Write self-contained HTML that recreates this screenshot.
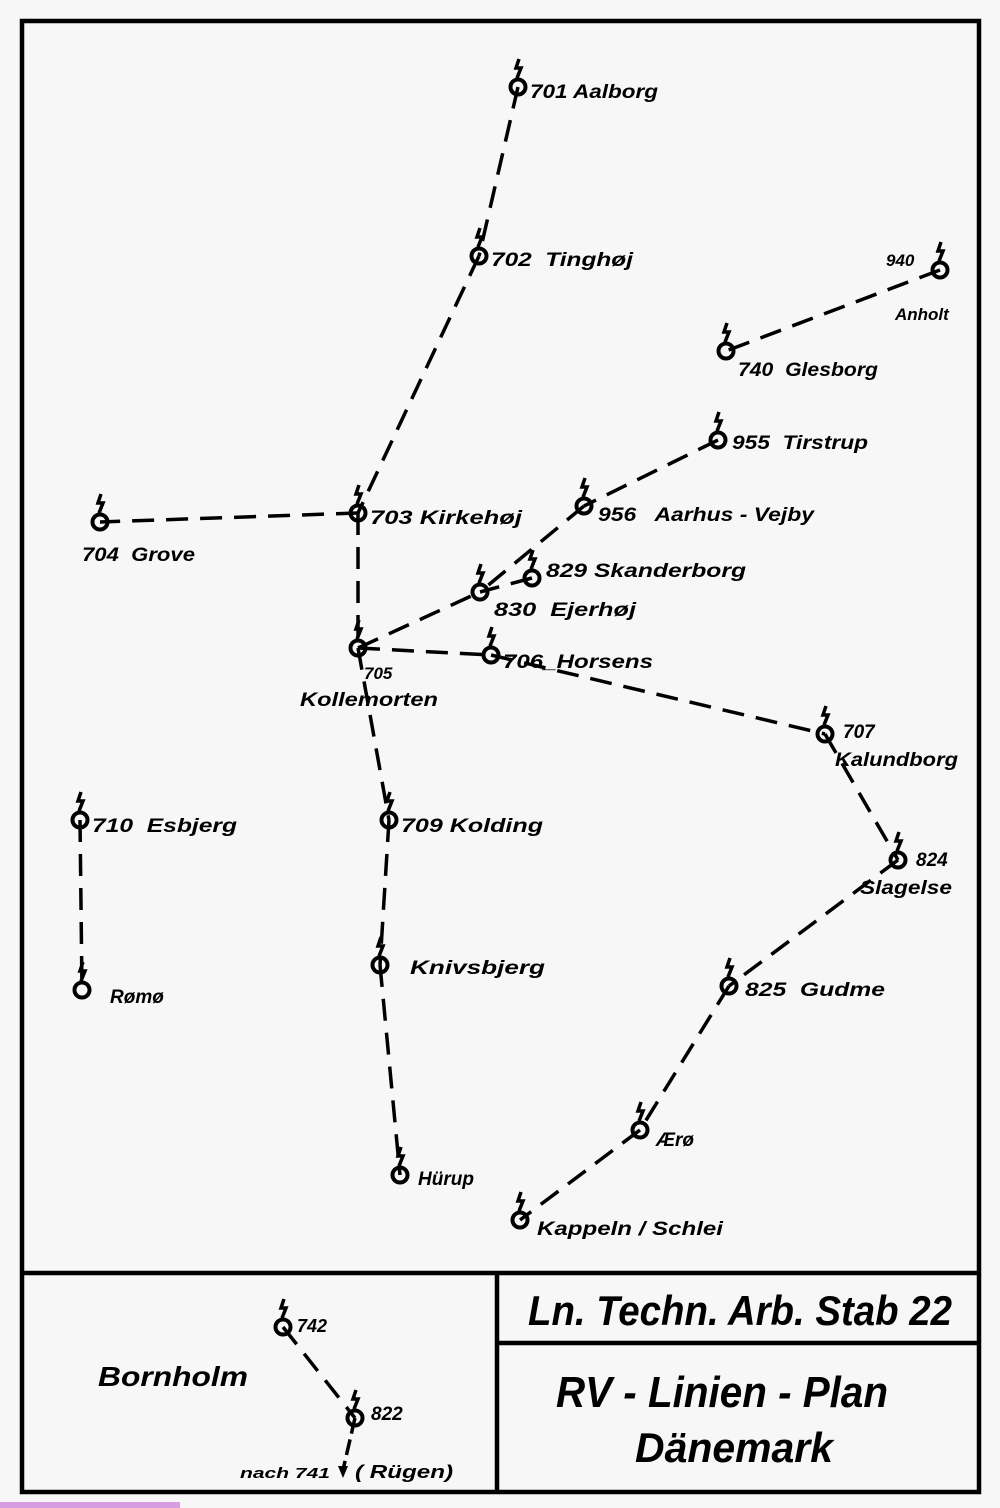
<!DOCTYPE html>
<html><head><meta charset="utf-8"><style>
html,body{margin:0;padding:0;background:#f7f7f7;}
svg{display:block}
text{font-family:"Liberation Sans",sans-serif;font-style:italic;font-weight:bold;fill:#000}
</style></head><body>
<svg width="1000" height="1508" viewBox="0 0 1000 1508" xmlns="http://www.w3.org/2000/svg">
<defs>
<g id="n">
<circle cx="0" cy="0" r="7.5" fill="none" stroke="#000" stroke-width="4"/>
<path d="M1,-28 L-2,-19 L3,-19 L-1,-9" fill="none" stroke="#000" stroke-width="3.5"/>
</g>
</defs>
<rect x="0" y="0" width="1000" height="1508" fill="#f7f7f7"/>
<g fill="none" stroke="#000" stroke-width="4.5">
<rect x="22" y="21" width="957" height="1471"/>
<line x1="22" y1="1273" x2="979" y2="1273"/>
<line x1="497" y1="1273" x2="497" y2="1492"/>
<line x1="497" y1="1343" x2="979" y2="1343"/>
</g>
<rect x="0" y="1502" width="180" height="6" fill="#c060d0" opacity="0.6"/>
<g stroke="#000" stroke-width="3.5" stroke-dasharray="22,12" fill="none">
<line x1="518" y1="87" x2="479" y2="256"/>
<line x1="479" y1="256" x2="358" y2="513"/>
<line x1="940" y1="270" x2="726" y2="351"/>
<line x1="718" y1="440" x2="584" y2="506"/>
<line x1="584" y1="506" x2="480" y2="592"/>
<line x1="532" y1="578" x2="480" y2="592"/>
<line x1="358" y1="513" x2="100" y2="522"/>
<line x1="358" y1="513" x2="358" y2="648"/>
<line x1="358" y1="648" x2="480" y2="592"/>
<line x1="358" y1="648" x2="491" y2="655"/>
<line x1="491" y1="655" x2="825" y2="734"/>
<line x1="825" y1="734" x2="898" y2="860"/>
<line x1="898" y1="860" x2="729" y2="986"/>
<line x1="729" y1="986" x2="640" y2="1130"/>
<line x1="640" y1="1130" x2="520" y2="1220"/>
<line x1="358" y1="648" x2="389" y2="820"/>
<line x1="389" y1="820" x2="380" y2="965"/>
<line x1="380" y1="965" x2="400" y2="1175"/>
<line x1="80" y1="820" x2="82" y2="990"/>
<line x1="283" y1="1327" x2="355" y2="1418"/>
<line x1="355" y1="1418" x2="343" y2="1470" stroke-dasharray="16,6"/>
</g>
<path d="M338,1466 L343,1478 L348,1466 Z" fill="#000"/>
<use href="#n" x="518" y="87"/>
<use href="#n" x="479" y="256"/>
<use href="#n" x="940" y="270"/>
<use href="#n" x="726" y="351"/>
<use href="#n" x="718" y="440"/>
<use href="#n" x="584" y="506"/>
<use href="#n" x="358" y="513"/>
<use href="#n" x="100" y="522"/>
<use href="#n" x="532" y="578"/>
<use href="#n" x="480" y="592"/>
<use href="#n" x="358" y="648"/>
<use href="#n" x="491" y="655"/>
<use href="#n" x="825" y="734"/>
<use href="#n" x="80" y="820"/>
<use href="#n" x="389" y="820"/>
<use href="#n" x="898" y="860"/>
<use href="#n" x="380" y="965"/>
<use href="#n" x="82" y="990"/>
<use href="#n" x="729" y="986"/>
<use href="#n" x="640" y="1130"/>
<use href="#n" x="400" y="1175"/>
<use href="#n" x="520" y="1220"/>
<use href="#n" x="283" y="1327"/>
<use href="#n" x="355" y="1418"/>
<g font-size="19">
<text x="530" y="98" textLength="128" lengthAdjust="spacingAndGlyphs">701 Aalborg</text>
<text x="491" y="266" textLength="142" lengthAdjust="spacingAndGlyphs">702&#160; Tinghøj</text>
<text x="886" y="266" font-size="17">940</text>
<text x="895" y="320" font-size="17">Anholt</text>
<text x="738" y="376" textLength="140" lengthAdjust="spacingAndGlyphs">740&#160; Glesborg</text>
<text x="732" y="449" textLength="136" lengthAdjust="spacingAndGlyphs">955&#160; Tirstrup</text>
<text x="598" y="521" textLength="216" lengthAdjust="spacingAndGlyphs">956&#160;&#160; Aarhus - Vejby</text>
<text x="370" y="524" textLength="152" lengthAdjust="spacingAndGlyphs">703 Kirkehøj</text>
<text x="82" y="561" textLength="113" lengthAdjust="spacingAndGlyphs">704&#160; Grove</text>
<text x="546" y="577" textLength="200" lengthAdjust="spacingAndGlyphs">829 Skanderborg</text>
<text x="494" y="616" textLength="142" lengthAdjust="spacingAndGlyphs">830&#160; Ejerhøj</text>
<text x="364" y="679" font-size="17">705</text>
<text x="300" y="706" textLength="138" lengthAdjust="spacingAndGlyphs">Kollemorten</text>
<text x="503" y="668" textLength="150" lengthAdjust="spacingAndGlyphs">706_Horsens</text>
<text x="843" y="738">707</text>
<text x="835" y="766" textLength="123" lengthAdjust="spacingAndGlyphs">Kalundborg</text>
<text x="92" y="832" textLength="145" lengthAdjust="spacingAndGlyphs">710&#160; Esbjerg</text>
<text x="401" y="832" textLength="142" lengthAdjust="spacingAndGlyphs">709 Kolding</text>
<text x="916" y="866">824</text>
<text x="860" y="894" textLength="92" lengthAdjust="spacingAndGlyphs">Slagelse</text>
<text x="410" y="974" textLength="135" lengthAdjust="spacingAndGlyphs">Knivsbjerg</text>
<text x="110" y="1003">Rømø</text>
<text x="745" y="996" textLength="140" lengthAdjust="spacingAndGlyphs">825&#160; Gudme</text>
<text x="656" y="1146">Ærø</text>
<text x="418" y="1185">Hürup</text>
<text x="537" y="1235" textLength="186" lengthAdjust="spacingAndGlyphs">Kappeln / Schlei</text>
<text x="297" y="1332" font-size="18">742</text>
<text x="371" y="1420">822</text>
<text x="240" y="1478" font-size="15" textLength="90" lengthAdjust="spacingAndGlyphs">nach 741</text>
<text x="355" y="1478" font-size="18" textLength="98" lengthAdjust="spacingAndGlyphs">( Rügen)</text>
<text x="98" y="1386" font-size="28" textLength="150" lengthAdjust="spacingAndGlyphs">Bornholm</text>
</g>
<text x="528" y="1325" font-size="42" textLength="424" lengthAdjust="spacingAndGlyphs">Ln. Techn. Arb. Stab 22</text>
<text x="556" y="1407" font-size="44" textLength="332" lengthAdjust="spacingAndGlyphs">RV - Linien - Plan</text>
<text x="635" y="1462" font-size="42" textLength="198" lengthAdjust="spacingAndGlyphs">Dänemark</text>
</svg>
</body></html>
